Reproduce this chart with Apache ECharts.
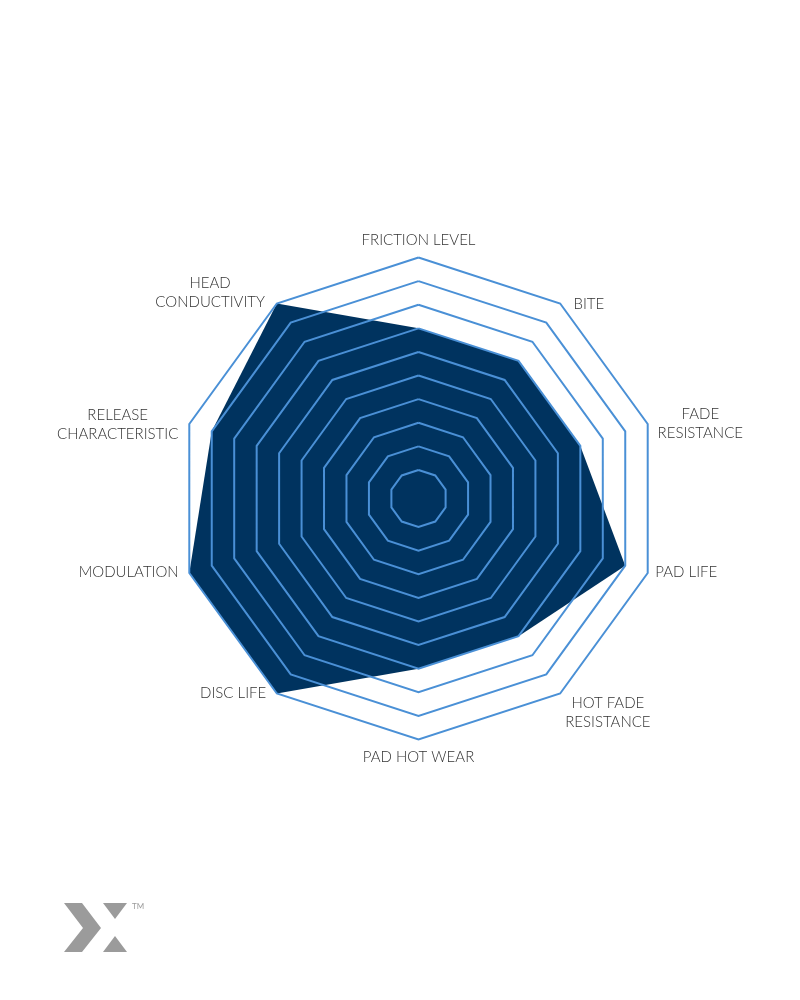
<!DOCTYPE html>
<html>
<head>
<meta charset="utf-8">
<script src="https://cdn.jsdelivr.net/npm/echarts@6/dist/echarts.min.js"></script>
<style>
html,body{margin:0;padding:0;background:#fff;}
#chart{width:800px;height:1000px;}
</style>
</head>
<body>
<div id="chart"></div>
<script>
// Indicators listed counter-clockwise from the top (ECharts radar order)
const categories = ['FRICTION LEVEL', 'HEAD\nCONDUCTIVITY', 'RELEASE\nCHARACTERISTIC', 'MODULATION', 'DISC LIFE', 'PAD HOT WEAR', 'HOT FADE\nRESISTANCE', 'PAD LIFE', 'FADE\nRESISTANCE', 'BITE'];
const values = [7, 10, 9, 10, 10, 7, 7, 9, 7, 7];
const scaleMin = 1;
const scaleMax = 10;

const labelFont = { fontFamily: 'Lato', fontSize: 15, fontWeight: 300, color: '#333333', lineHeight: 19 };
function sp(h) { return Object.assign({}, labelFont, { lineHeight: h, height: h, fontSize: 1 }); }
const rich = {
  base: Object.assign({}, labelFont),
  sp5: sp(5), sp6: sp(6), sp8: sp(8), sp26: sp(26),
  bite: Object.assign({}, labelFont, { width: 48, align: 'center', padding: [14, 0, 0, 0] }),
  pad: Object.assign({}, labelFont, { padding: [0, 0, 6, 0] }),
  mod: Object.assign({}, labelFont, { padding: [0, 3, 6, 0] }),
  fade: Object.assign({}, labelFont, { width: 90, align: 'center' }),
  hot: Object.assign({}, labelFont, { width: 86, align: 'center' }),
  disc: Object.assign({}, labelFont, { width: 78, align: 'center', padding: [0, 0, 14, 0] }),
  rel: Object.assign({}, labelFont, { width: 128, align: 'center' }),
  head: Object.assign({}, labelFont, { width: 124, align: 'center' })
};
function fmt(name) {
  const lines = name.split('\n');
  switch (name) {
    case 'BITE': return '{bite|BITE}';
    case 'PAD LIFE': return '{pad|PAD LIFE}';
    case 'MODULATION': return '{mod|MODULATION}';
    case 'FADE\nRESISTANCE': return '{sp5| }\n' + lines.map(l => '{fade|' + l + '}').join('\n');
    case 'HOT FADE\nRESISTANCE': return '{sp26| }\n' + lines.map(l => '{hot|' + l + '}').join('\n');
    case 'DISC LIFE': return '{disc|DISC LIFE}';
    case 'RELEASE\nCHARACTERISTIC': return '{sp6| }\n' + lines.map(l => '{rel|' + l + '}').join('\n');
    case 'HEAD\nCONDUCTIVITY': return lines.map(l => '{head|' + l + '}').join('\n') + '\n{sp8| }';
    default: return '{base|' + name + '}';
  }
}

const chart = echarts.init(document.getElementById('chart'));
chart.setOption({
  backgroundColor: '#ffffff',
  animation: false,
  radar: {
    center: [418.5, 498.5],
    radius: [28.5, 241],
    startAngle: 90,
    shape: 'polygon',
    splitNumber: 9,
    z: 5,
    indicator: categories.map(n => ({ name: n, min: scaleMin, max: scaleMax })),
    axisName: Object.assign({ formatter: fmt, rich: rich }, labelFont),
    nameGap: 8,
    axisLine: { show: false },
    axisTick: { show: false },
    axisLabel: { show: false },
    splitArea: { show: false },
    splitLine: { lineStyle: { color: '#4a90d6', width: 2 } }
  },
  series: [{
    type: 'radar',
    z: 2,
    symbol: 'none',
    lineStyle: { width: 0 },
    areaStyle: { color: '#00335f', opacity: 1 },
    data: [{ value: values }]
  }],
  graphic: [
    { type: 'polygon', shape: { points: [[64, 903], [82, 903], [101, 928], [82, 952], [64, 952], [83, 928]] }, style: { fill: '#9b9b9b' } },
    { type: 'polygon', shape: { points: [[103, 903], [127, 903], [115, 919]] }, style: { fill: '#9b9b9b' } },
    { type: 'polygon', shape: { points: [[115, 936], [127, 952], [103, 952]] }, style: { fill: '#9b9b9b' } },
    { type: 'text', left: 132, top: 902, style: { text: 'TM', fontSize: 8, fontFamily: 'Lato', fill: '#9b9b9b' } }
  ]
});
</script>
</body>
</html>
